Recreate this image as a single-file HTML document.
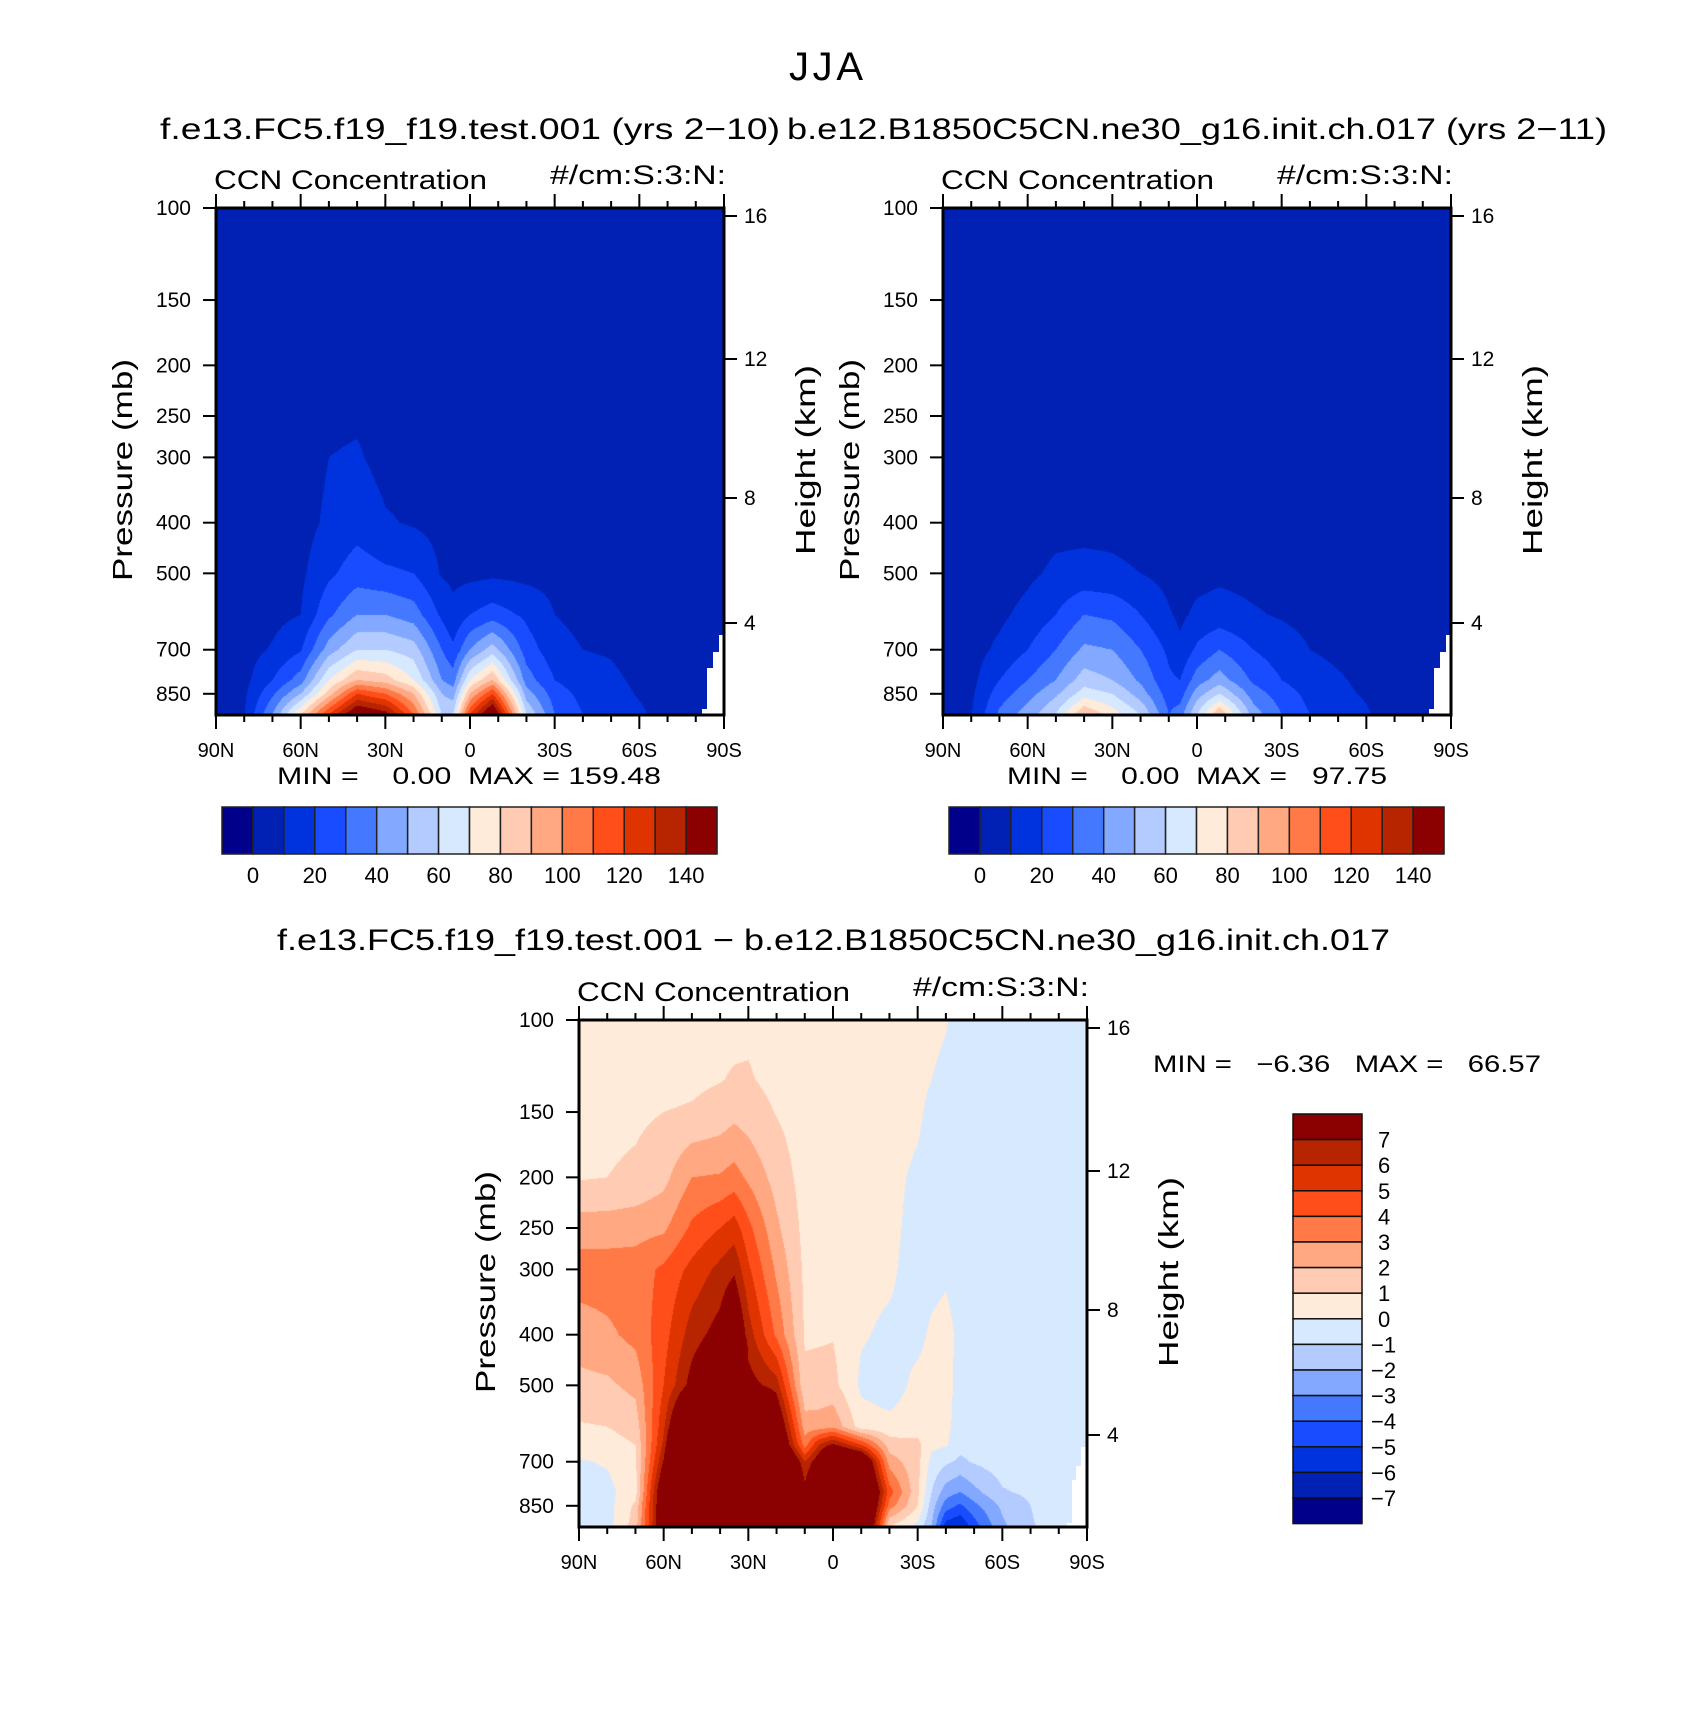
<!DOCTYPE html>
<html><head><meta charset="utf-8"><style>
body{margin:0;width:1694px;height:1735px;background:#fff;position:relative;overflow:hidden;font-family:"Liberation Sans",sans-serif}
canvas{position:absolute}
</style></head><body>
<canvas id="c1" width="508" height="507" style="left:216px;top:208px"></canvas>
<canvas id="c2" width="508" height="507" style="left:943px;top:208px"></canvas>
<canvas id="c3" width="508" height="507" style="left:579px;top:1020px"></canvas>
<svg id="ov" width="1694" height="1735" style="position:absolute;left:0;top:0" font-family="Liberation Sans, sans-serif">
<text x="826" y="80" font-size="40" text-anchor="middle" textLength="74">JJA</text>
<text x="160" y="139" font-size="30" textLength="620" lengthAdjust="spacingAndGlyphs">f.e13.FC5.f19_f19.test.001 (yrs 2−10)</text>
<text x="787" y="139" font-size="30" textLength="820" lengthAdjust="spacingAndGlyphs">b.e12.B1850C5CN.ne30_g16.init.ch.017 (yrs 2−11)</text>
<text x="277" y="950" font-size="30" textLength="1113" lengthAdjust="spacingAndGlyphs">f.e13.FC5.f19_f19.test.001 − b.e12.B1850C5CN.ne30_g16.init.ch.017</text>
<text x="277" y="784" font-size="24" textLength="384" lengthAdjust="spacingAndGlyphs" xml:space="preserve">MIN =    0.00  MAX = 159.48</text>
<text x="1007" y="784" font-size="24" textLength="380" lengthAdjust="spacingAndGlyphs" xml:space="preserve">MIN =    0.00  MAX =   97.75</text>
<text x="1153" y="1072" font-size="24" textLength="388" lengthAdjust="spacingAndGlyphs" xml:space="preserve">MIN =   −6.36   MAX =   66.57</text>
</svg>
<script>
// ---------- data ----------
const lats12 = [90,80,70,60,50,40,30,20,10,6,0,-8,-20,-30,-40,-50,-60,-70,-80,-90];
const levels12 = [100,200,300,400,500,600,700,800,850,930];
const ccnTest = [
[5,5,5,5,5,5,5,5,5,5],
[5,5,5,5,5,5,6,7,8,9.5],
[5,5,5,5,5,7,11,20,28,40],
[5,5,5,6,8,10,19,35,50,80],
[5,6,10,12,18,28,45,70,85,120],
[5,6,11,16,25,40,60,90,120,155],
[5,6,7,11,22,40,60,85,110,145],
[5,5,6,9,20,35,55,70,90,110],
[5,5,5,7,9,18,30,40,50,60],
[5,5,5,5,8,12,22,35,45,60],
[5,5,5,6,7,20,40,70,90,120],
[5,5,5,6,8,25,55,90,120,160],
[5,5,5,6,7,18,25,35,45,60],
[5,5,5,5,7,10,14,20,25,30],
[5,5,5,5,5,7,10,14,17,20],
[5,5,5,5,5,6,9,12,14,17],
[5,5,5,5,5,5,6,8,9,12],
[5,5,5,5,5,5,5,5,5,5],
[5,5,5,5,5,5,5,5,5,5],
[5,5,5,5,5,5,5,5,5,5]];
const ccnCtrl = [
[5,5,5,5,5,5,5,5,5,5],
[5,5,5,5,5,5,6,7,8,9.5],
[5,5,5,5,5,8,12,20,25,32],
[5,5,5,5,8,13,20,30,36,45],
[5,5,5,7,12,20,30,40,48,60],
[5,5,5,7,13,30,42,55,65,90],
[5,5,5,7,12,28,40,50,60,75],
[5,5,5,6,10,20,30,38,45,60],
[5,5,5,5,7,11,18,22,25,30],
[5,5,5,5,6,8,12,20,25,35],
[5,5,5,5,7,12,22,35,45,60],
[5,5,5,5,8,14,30,45,60,90],
[5,5,5,5,7,11,20,28,35,45],
[5,5,5,5,6,9,15,20,25,30],
[5,5,5,5,5,7,10,14,17,20],
[5,5,5,5,5,6,8,11,12,16],
[5,5,5,5,5,5,6,8,9,11],
[5,5,5,5,5,5,5,5,5,5],
[5,5,5,5,5,5,5,5,5,5],
[5,5,5,5,5,5,5,5,5,5]];
const latsD = [90,80,70,60,50,40,35,30,20,10,5,0,-10,-20,-30,-35,-40,-45,-50,-60,-70,-80,-90];
const levelsD = [100,130,150,200,250,300,400,500,600,650,700,800,850,930];
const ccnDiff = [
[0.5,0.6,0.7,0.9,2.5,3.5,2.5,1.7,0.9,0.5,-0.1,-0.5,-0.5,-0.4],
[0.5,0.6,0.7,1.0,2.5,3.5,2.8,1.8,1.0,0.6,0.1,-0.3,-0.4,-0.4],
[0.5,0.6,0.8,1.2,2.6,3.5,3.3,2.3,1.4,1.0,0.8,0.6,1.2,1.5],
[0.6,0.7,1.0,1.7,2.8,4.2,4.6,5.0,5.8,6.3,7.1,9,9,9],
[0.6,0.8,1.1,3.0,4.2,5.3,6.5,7.5,12,15,20,25,25,25],
[0.7,0.95,1.4,3.1,5.0,6.3,7.5,9,15,20,25,30,30,30],
[0.7,1.1,1.7,3.4,5.5,6.8,9,20,30,30,30,30,30,30],
[0.8,1.1,1.5,2.8,4.3,5.2,6.5,7.5,15,20,25,30,30,30],
[0.5,0.7,0.95,1.6,2.2,2.8,3.8,6.5,9,10,12,15,15,15],
[0.3,0.4,0.5,0.6,0.7,0.8,0.9,1.2,2.5,3.5,6,7.5,8,9],
[0.3,0.4,0.5,0.6,0.7,0.8,0.9,1.3,2.5,6,8,10,10,10],
[0.3,0.4,0.5,0.6,0.7,0.8,0.95,1.3,2.8,7.3,12,15,15,15],
[0.3,0.3,0.35,0.4,0.4,0.3,0.1,-0.2,0.5,5,10,12,12,12],
[0.4,0.4,0.4,0.3,0.3,0.2,-0.2,-0.5,0.3,1.5,2.5,4.5,3.5,1],
[0.4,0.3,0.2,-0.2,-0.4,-0.5,-0.3,0.3,0.5,1.3,1.3,1.2,1,-0.3],
[0.3,0.0,-0.3,-0.5,-0.5,-0.4,0.2,0.4,0.3,0.2,-0.3,-1.0,-1.5,-2],
[0.1,-0.3,-0.4,-0.5,-0.5,-0.2,0.4,0.4,0.3,0.1,-0.8,-2.5,-3.5,-5.5],
[-0.5,-0.5,-0.5,-0.5,-0.5,-0.5,-0.3,-0.4,-0.5,-0.7,-1.2,-3,-4.2,-6],
[-0.5,-0.5,-0.5,-0.5,-0.5,-0.5,-0.5,-0.5,-0.5,-0.6,-0.9,-2.3,-3.3,-4.5],
[-0.5,-0.5,-0.5,-0.5,-0.5,-0.5,-0.5,-0.5,-0.5,-0.5,-0.5,-1.1,-1.8,-2.2],
[-0.5,-0.5,-0.5,-0.5,-0.5,-0.5,-0.5,-0.5,-0.5,-0.5,-0.5,-0.8,-1.0,-1.1],
[-0.5,-0.5,-0.5,-0.5,-0.5,-0.5,-0.5,-0.5,-0.5,-0.5,-0.5,-0.5,-0.5,-0.5],
[-0.5,-0.5,-0.5,-0.5,-0.5,-0.5,-0.5,-0.5,-0.5,-0.5,-0.5,-0.5,-0.5,-0.5]];
const palette = ["#00008b","#0021b3","#0033de","#1a4cff","#4479ff","#82a9ff","#b3cbff","#d7e9ff","#ffebd9","#ffcbb3","#ffa882","#ff7a46","#ff4e1a","#e03400","#b72400","#8b0000"];
const cbLabels1 = ["0","20","40","60","80","100","120","140"];
const cbLabelsD = ["7","6","5","4","3","2","1","0","−1","−2","−3","−4","−5","−6","−7"];
const presTicks = [100,150,200,250,300,400,500,700,850];
const heightTicks = ["16","12","8","4"];
const latTickLabels = ["90N","60N","30N","0","30S","60S","90S"];

// ---------- geometry ----------
const W = 508, H = 507, K = 227;
const xOf = lat => (90 - lat) / 180 * W;
const yOf = p => Math.log(p / 100) * K;
const heightOffsets = [8, 151, 290, 415];

function rgb(h){return [parseInt(h.substr(1,2),16),parseInt(h.substr(3,2),16),parseInt(h.substr(5,2),16)];}
const pal = palette.map(rgb);

function findIdx(arr, v){
  for(let i=0;i<arr.length-1;i++){ if(v<=arr[i+1]) return i; }
  return arr.length-2;
}
function renderField(id, lats, levels, vals, binFn){
  const cv = document.getElementById(id), ctx = cv.getContext('2d');
  const img = ctx.createImageData(W,H);
  const xs = lats.map(xOf), ys = levels.map(yOf);
  for(let py=0;py<H;py++){
    const y = py+0.5;
    const j = findIdx(ys,y);
    let ty = (y-ys[j])/(ys[j+1]-ys[j]); ty=Math.max(0,Math.min(1,ty));
    for(let px=0;px<W;px++){
      const x = px+0.5;
      const i = findIdx(xs,x);
      let tx = (x-xs[i])/(xs[i+1]-xs[i]); tx=Math.max(0,Math.min(1,tx));
      const v = (vals[i][j]*(1-tx)+vals[i+1][j]*tx)*(1-ty)+(vals[i][j+1]*(1-tx)+vals[i+1][j+1]*tx)*ty;
      const c = pal[binFn(v)];
      const k=(py*W+px)*4;
      img.data[k]=c[0];img.data[k+1]=c[1];img.data[k+2]=c[2];img.data[k+3]=255;
    }
  }
  ctx.putImageData(img,0,0);
}
const binCCN = v => v<0?0:Math.min(15,Math.floor(v/10)+1);
const binDiff = v => Math.max(0,Math.min(15,Math.floor(v)+8));
renderField('c1', lats12, levels12, ccnTest, binCCN);
renderField('c2', lats12, levels12, ccnCtrl, binCCN);
renderField('c3', latsD, levelsD, ccnDiff, binDiff);

// ---------- overlay ----------
const NS = "http://www.w3.org/2000/svg";
const ov = document.getElementById('ov');
function mk(tag, attrs, parent){
  const e = document.createElementNS(NS, tag);
  for(const k in attrs) e.setAttribute(k, attrs[k]);
  (parent||ov).appendChild(e);
  return e;
}
function txt(s, attrs, parent){ const t = mk('text', attrs, parent); t.textContent = s; return t; }

function missingMask(ox, oy, pts, name){
  const p = mk('polygon', {points: pts.map(q=>(ox+q[0])+','+(oy+q[1])).join(' '), fill:'#fff'});
  
  
}

function axes(ox, oy, name){
  const g = mk('g', {});
  
  
  for(let lat=90; lat>=-90; lat-=10){
    const x = ox + xOf(lat);
    const major = (lat % 30 === 0);
    const len = major ? 14 : 7;
    mk('line',{x1:x,y1:oy+H,x2:x,y2:oy+H+len,stroke:'#000','stroke-width':2},g);
    mk('line',{x1:x,y1:oy,x2:x,y2:oy-len,stroke:'#000','stroke-width':2},g);
  }
  latTickLabels.forEach((s,i)=>{
    const t = txt(s,{x:ox+xOf(90-30*i),y:oy+H+42,'font-size':20,'text-anchor':'middle'},g);
    
    
  });
  presTicks.forEach(p=>{
    const y = oy + yOf(p);
    mk('line',{x1:ox,y1:y,x2:ox-13,y2:y,stroke:'#000','stroke-width':2},g);
    const t = txt(String(p),{x:ox-25,y:y+7,'font-size':21,'text-anchor':'end'},g);
    
    
  });
  heightTicks.forEach((s,i)=>{
    const y = oy + heightOffsets[i];
    mk('line',{x1:ox+W,y1:y,x2:ox+W+13,y2:y,stroke:'#000','stroke-width':2},g);
    const t = txt(s,{x:ox+W+20,y:y+7,'font-size':21},g);
    
    
  });
  mk('rect',{x:ox,y:oy,width:W,height:H,fill:'none',stroke:'#000','stroke-width':3},g);
  const a = txt('CCN Concentration',{x:ox-2,y:oy-19,'font-size':27,textLength:273,lengthAdjust:'spacingAndGlyphs'},g);
  
  
  const b = txt('#/cm:S:3:N:',{x:ox+334,y:oy-24,'font-size':27,textLength:176,lengthAdjust:'spacingAndGlyphs'},g);
  
  
  const yl = txt('Pressure  (mb)',{x:0,y:0,'font-size':28,'text-anchor':'middle',transform:'translate('+(ox-84)+','+(oy+262)+') rotate(-90)',textLength:222,lengthAdjust:'spacingAndGlyphs'},g);
  
  
  const hl = txt('Height  (km)',{x:0,y:0,'font-size':28,'text-anchor':'middle',transform:'translate('+(ox+W+91)+','+(oy+252)+') rotate(-90)',textLength:190,lengthAdjust:'spacingAndGlyphs'},g);
  
  
}

[[216,208,'panel1'],[943,208,'panel2']].forEach(o=>missingMask(o[0],o[1],[[W-5,H-80],[W-1,H-80],[W-1,H-1],[W-22,H-1],[W-22,H-6],[W-17,H-6],[W-17,H-47],[W-11,H-47],[W-11,H-63],[W-5,H-63]],o[2]+'-missing-region'));
missingMask(579,1020,[[W-6,H-80],[W-1,H-80],[W-1,H-1],[W-20,H-1],[W-20,H-4],[W-15,H-4],[W-15,H-47],[W-11,H-47],[W-11,H-61],[W-6,H-61]],'difference-missing-region');

axes(216,208,'panel1');
axes(943,208,'panel2');
axes(579,1020,'difference');

function hbar(x0,y0,name){
  const g = mk('g',{});
  
  
  const bw = 30.94;
  palette.forEach((c,i)=>{
    const r = mk('rect',{x:x0+i*bw,y:y0,width:bw,height:47,fill:c,stroke:'#222','stroke-width':1.5},g);
    
    
  });
  cbLabels1.forEach((s,i)=>{
    const t = txt(s,{x:x0+(2*i+1)*bw,y:y0+76,'font-size':22,'text-anchor':'middle'},g);
    
    
  });
}
hbar(222,807,'panel1-colorbar');
hbar(949,807,'panel2-colorbar');

(function(){
  const g = mk('g',{});
  
  
  const x0=1293,y0=1114,bh=25.6;
  for(let i=0;i<16;i++){
    const r = mk('rect',{x:x0,y:y0+i*bh,width:69,height:bh,fill:palette[15-i],stroke:'#111','stroke-width':1.5},g);
    
    
  }
  cbLabelsD.forEach((s,i)=>{
    const t = txt(s,{x:s.length>1?1371:1378,y:y0+(i+1)*bh+8,'font-size':22},g);
    
    
  });
})();
</script>
</body></html>
